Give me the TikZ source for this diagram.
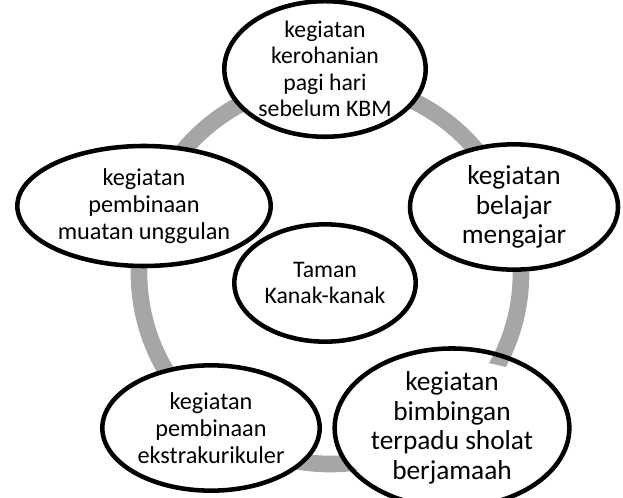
\documentclass[tikz,border=0pt]{standalone}
\usepackage{fontspec}
\setmainfont{Carlito}
\usetikzlibrary{shapes.geometric}
\definecolor{ringgray}{HTML}{A6A6A6}
\tikzset{
  ring/.style={draw=ringgray, line width=12.5pt},
  oval/.style={ellipse, draw=black, line width=3.4pt, inner sep=0pt, align=center, text=black},
  ovalfill/.style={fill=white},
  fA/.style={font=\fontsize{17.8}{19.8}\selectfont},
  fB/.style={font=\fontsize{20.5}{22.2}\selectfont},
  fC/.style={font=\fontsize{18.2}{20.3}\selectfont},
  fD/.style={font=\fontsize{17.8}{18.9}\selectfont},
}
\begin{document}
\begin{tikzpicture}[x=0.75pt,y=-0.75pt]
\useasboundingbox (0,0) rectangle (623,498);
% ring
\coordinate (rc) at (330,273);
\draw[ring] (rc) circle [radius=143.25pt];
% white fills
\fill[ovalfill] (325,69) ellipse [x radius=77.25pt, y radius=45.75pt];
\fill[ovalfill] (514,207) ellipse [x radius=79.5pt, y radius=48.75pt];
\fill[ovalfill] (144,206) ellipse [x radius=96.75pt, y radius=46.5pt];
\fill[ovalfill] (325,283) ellipse [x radius=69.75pt, y radius=45.75pt];
\fill[ovalfill] (211,428) ellipse [x radius=83.25pt, y radius=48.75pt];
\fill[ovalfill] (452,428) ellipse [x radius=90pt, y radius=51pt];
% nodes
\node[oval, fA, minimum width=151pt, minimum height=88pt] (top) at (325,69) {kegiatan\\kerohanian\\pagi hari\\sebelum KBM};
\node[oval, fB, minimum width=156pt, minimum height=94pt] (right) at (514,207) {kegiatan\\belajar\\mengajar};
\node[oval, fC, minimum width=190pt, minimum height=90pt] (left) at (144,206) {kegiatan\\pembinaan\\muatan unggulan};
\node[oval, fD, minimum width=136pt, minimum height=88pt] (center) at (325,283) {Taman\\Kanak-kanak};
\node[oval, fC, minimum width=163pt, minimum height=94pt] (bl) at (211,428) {kegiatan\\pembinaan\\ekstrakurikuler};
\node[oval, fB, minimum width=176pt, minimum height=99pt] (br) at (452,428) {kegiatan\\bimbingan\\terpadu sholat\\berjamaah};
\end{tikzpicture}
\end{document}
